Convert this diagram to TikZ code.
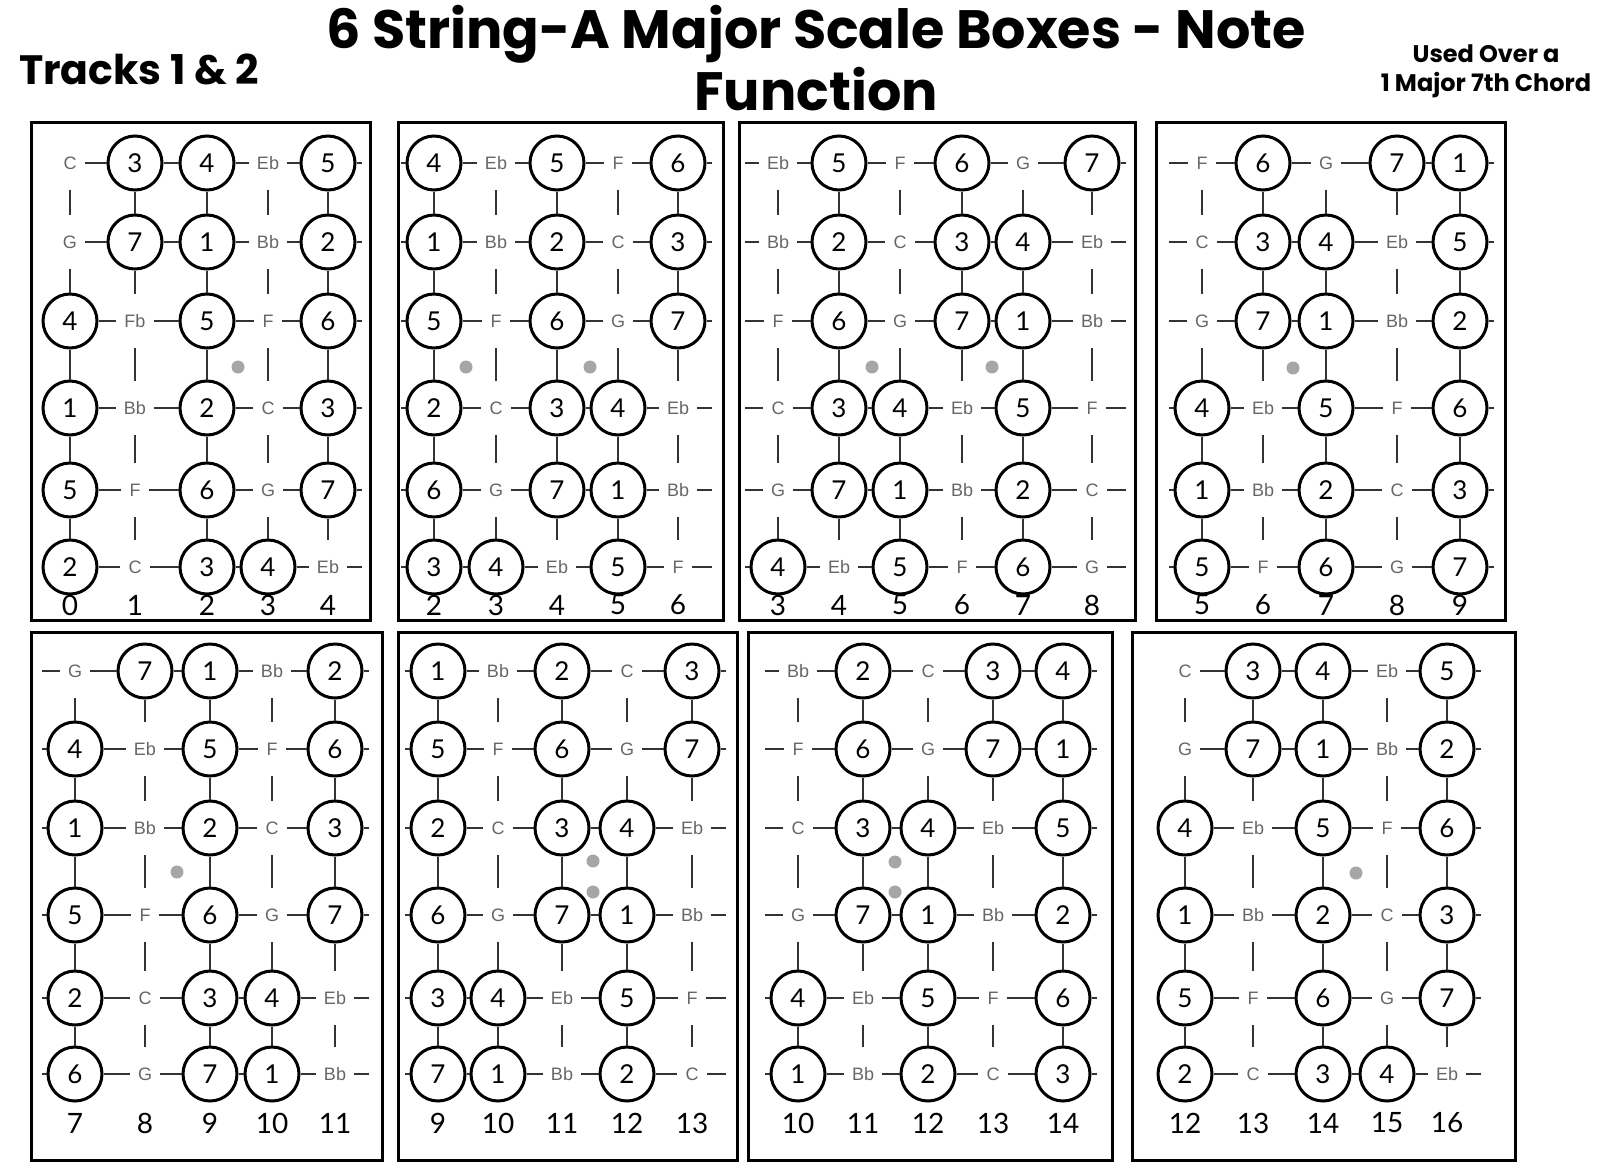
\documentclass[tikz,border=0pt]{standalone}
\usepackage{fontspec}
\setmainfont{Lato}
\newfontfamily\notefont{Liberation Sans}
\newfontfamily\headfont{Poppins}

\begin{document}
\begin{tikzpicture}[
        x=0.5pt, y=-0.5pt,
        heading/.style={anchor=base, font=\headfont\fontsize{27}{27}\selectfont\bfseries},
        sidetag/.style={anchor=base, font=\headfont\fontsize{12}{12}\selectfont\bfseries},
        degree/.style={draw, circle, line width=1.5pt, fill=white, minimum size=27pt, inner sep=0pt, font=\fontsize{13}{13}\selectfont},
        note/.style={minimum height=27pt, inner xsep=4pt, inner ysep=0pt, text=black!60, font=\notefont\fontsize{9}{9}\selectfont},
        fret/.style={font=\fontsize{14}{14}\selectfont},
        marker/.style={circle, fill=black!35, inner sep=0pt, minimum size=6.5pt},
        boxframe/.style={draw=black, line width=1.5pt},
        gstring/.style={draw=black!80, line width=1.3pt}
      ]

      \useasboundingbox (0,0) rectangle (1600,1173);

      \node (title) [heading] at (816,48) {6 String-A Major Scale Boxes - Note};
      \node (title2) [heading] at (816,110) {Function};
      \node (tracks) [heading, anchor=base west, font=\headfont\fontsize{20.5}{20.5}\selectfont\bfseries] at (12,84) {Tracks 1 \& 2};
      \node (used) [sidetag] at (1486,62) {Used Over a};
      \node (chord) [sidetag] at (1486,91) {1 Major 7th Chord};

      % box 1, frets 0-4
      \draw[boxframe] (31,122) rectangle (370,620);
      \foreach \r/\row in {
          1/{note/C,degree/3,degree/4,note/Eb,degree/5},
          2/{note/G,degree/7,degree/1,note/Bb,degree/2},
          3/{degree/4,note/Fb,degree/5,note/F,degree/6},
          4/{degree/1,note/Bb,degree/2,note/C,degree/3},
          5/{degree/5,note/F,degree/6,note/G,degree/7},
          6/{degree/2,note/C,degree/3,degree/4,note/Eb}}
        \foreach \t/\txt [count=\c] in \row {
          \pgfmathsetmacro\x{{70,135,207,268,328}[\c-1]}
          \pgfmathsetmacro\y{{163,242,321,408,490,567}[\r-1]}
          \node (b1-\r-\c) [\t] at (\x,\y) {\txt};
        }
      \foreach \f [count=\c] in {0,...,4} \node (b1-f\c) [fret] at (b1-6-\c |- 0,605) {\f};
      \node (b1-dot) [marker] at (238,367) {};

      % box 2, frets 2-6
      \draw[boxframe] (398,122) rectangle (723,620);
      \foreach \r/\row in {
          1/{degree/4,note/Eb,degree/5,note/F,degree/6},
          2/{degree/1,note/Bb,degree/2,note/C,degree/3},
          3/{degree/5,note/F,degree/6,note/G,degree/7},
          4/{degree/2,note/C,degree/3,degree/4,note/Eb},
          5/{degree/6,note/G,degree/7,degree/1,note/Bb},
          6/{degree/3,degree/4,note/Eb,degree/5,note/F}}
        \foreach \t/\txt [count=\c] in \row {
          \pgfmathsetmacro\x{{434,496,557,618,678}[\c-1]}
          \pgfmathsetmacro\y{{163,242,321,408,490,567}[\r-1]}
          \node (b2-\r-\c) [\t] at (\x,\y) {\txt};
        }
      \foreach \f [count=\c] in {2,...,6} \node (b2-f\c) [fret] at (b2-6-\c |- 0,605) {\f};
      \node (b2-dot1) [marker] at (466,367) {};
      \node (b2-dot2) [marker] at (590,367) {};

      % box 3, frets 3-8
      \draw[boxframe] (739,122) rectangle (1135,620);
      \foreach \r/\row in {
          1/{note/Eb,degree/5,note/F,degree/6,note/G,degree/7},
          2/{note/Bb,degree/2,note/C,degree/3,degree/4,note/Eb},
          3/{note/F,degree/6,note/G,degree/7,degree/1,note/Bb},
          4/{note/C,degree/3,degree/4,note/Eb,degree/5,note/F},
          5/{note/G,degree/7,degree/1,note/Bb,degree/2,note/C},
          6/{degree/4,note/Eb,degree/5,note/F,degree/6,note/G}}
        \foreach \t/\txt [count=\c] in \row {
          \pgfmathsetmacro\x{{778,839,900,962,1023,1092}[\c-1]}
          \pgfmathsetmacro\y{{163,242,321,408,490,567}[\r-1]}
          \node (b3-\r-\c) [\t] at (\x,\y) {\txt};
        }
      \foreach \f [count=\c] in {3,...,8} \node (b3-f\c) [fret] at (b3-6-\c |- 0,605) {\f};
      \node (b3-dot1) [marker] at (872,367) {};
      \node (b3-dot2) [marker] at (992,367) {};

      % box 4, frets 5-9
      \draw[boxframe] (1156,122) rectangle (1505,620);
      \foreach \r/\row in {
          1/{note/F,degree/6,note/G,degree/7,degree/1},
          2/{note/C,degree/3,degree/4,note/Eb,degree/5},
          3/{note/G,degree/7,degree/1,note/Bb,degree/2},
          4/{degree/4,note/Eb,degree/5,note/F,degree/6},
          5/{degree/1,note/Bb,degree/2,note/C,degree/3},
          6/{degree/5,note/F,degree/6,note/G,degree/7}}
        \foreach \t/\txt [count=\c] in \row {
          \pgfmathsetmacro\x{{1202,1263,1326,1397,1460}[\c-1]}
          \pgfmathsetmacro\y{{163,242,321,408,490,567}[\r-1]}
          \node (b4-\r-\c) [\t] at (\x,\y) {\txt};
        }
      \foreach \f [count=\c] in {5,...,9} \node (b4-f\c) [fret] at (b4-6-\c |- 0,605) {\f};
      \node (b4-dot) [marker] at (1293,368) {};

      % box 5, frets 7-11
      \draw[boxframe] (31,632) rectangle (382,1160);
      \foreach \r/\row in {
          1/{note/G,degree/7,degree/1,note/Bb,degree/2},
          2/{degree/4,note/Eb,degree/5,note/F,degree/6},
          3/{degree/1,note/Bb,degree/2,note/C,degree/3},
          4/{degree/5,note/F,degree/6,note/G,degree/7},
          5/{degree/2,note/C,degree/3,degree/4,note/Eb},
          6/{degree/6,note/G,degree/7,degree/1,note/Bb}}
        \foreach \t/\txt [count=\c] in \row {
          \pgfmathsetmacro\x{{75,145,210,272,335}[\c-1]}
          \pgfmathsetmacro\y{{671,749,828,915,998,1074}[\r-1]}
          \node (b5-\r-\c) [\t] at (\x,\y) {\txt};
        }
      \foreach \f [count=\c] in {7,...,11} \node (b5-f\c) [fret] at (b5-6-\c |- 0,1123) {\f};
      \node (b5-dot) [marker] at (177,872) {};

      % box 6, frets 9-13
      \draw[boxframe] (398,632) rectangle (737,1160);
      \foreach \r/\row in {
          1/{degree/1,note/Bb,degree/2,note/C,degree/3},
          2/{degree/5,note/F,degree/6,note/G,degree/7},
          3/{degree/2,note/C,degree/3,degree/4,note/Eb},
          4/{degree/6,note/G,degree/7,degree/1,note/Bb},
          5/{degree/3,degree/4,note/Eb,degree/5,note/F},
          6/{degree/7,degree/1,note/Bb,degree/2,note/C}}
        \foreach \t/\txt [count=\c] in \row {
          \pgfmathsetmacro\x{{438,498,562,627,692}[\c-1]}
          \pgfmathsetmacro\y{{671,749,828,915,998,1074}[\r-1]}
          \node (b6-\r-\c) [\t] at (\x,\y) {\txt};
        }
      \foreach \f [count=\c] in {9,...,13} \node (b6-f\c) [fret] at (b6-6-\c |- 0,1123) {\f};
      \node (b6-dot1) [marker] at (593,861) {};
      \node (b6-dot2) [marker] at (593,892) {};

      % box 7, frets 10-14
      \draw[boxframe] (748,632) rectangle (1112,1160);
      \foreach \r/\row in {
          1/{note/Bb,degree/2,note/C,degree/3,degree/4},
          2/{note/F,degree/6,note/G,degree/7,degree/1},
          3/{note/C,degree/3,degree/4,note/Eb,degree/5},
          4/{note/G,degree/7,degree/1,note/Bb,degree/2},
          5/{degree/4,note/Eb,degree/5,note/F,degree/6},
          6/{degree/1,note/Bb,degree/2,note/C,degree/3}}
        \foreach \t/\txt [count=\c] in \row {
          \pgfmathsetmacro\x{{798,863,928,993,1063}[\c-1]}
          \pgfmathsetmacro\y{{671,749,828,915,998,1074}[\r-1]}
          \node (b7-\r-\c) [\t] at (\x,\y) {\txt};
        }
      \foreach \f [count=\c] in {10,...,14} \node (b7-f\c) [fret] at (b7-6-\c |- 0,1123) {\f};
      \node (b7-dot1) [marker] at (895,862) {};
      \node (b7-dot2) [marker] at (895,892) {};

      % box 8, frets 12-16
      \draw[boxframe] (1132,632) rectangle (1515,1160);
      \foreach \r/\row in {
          1/{note/C,degree/3,degree/4,note/Eb,degree/5},
          2/{note/G,degree/7,degree/1,note/Bb,degree/2},
          3/{degree/4,note/Eb,degree/5,note/F,degree/6},
          4/{degree/1,note/Bb,degree/2,note/C,degree/3},
          5/{degree/5,note/F,degree/6,note/G,degree/7},
          6/{degree/2,note/C,degree/3,degree/4,note/Eb}}
        \foreach \t/\txt [count=\c] in \row {
          \pgfmathsetmacro\x{{1185,1253,1323,1387,1447}[\c-1]}
          \pgfmathsetmacro\y{{671,749,828,915,998,1074}[\r-1]}
          \node (b8-\r-\c) [\t] at (\x,\y) {\txt};
        }
      \foreach \f [count=\c] in {12,...,16} \node (b8-f\c) [fret] at (b8-6-\c |- 0,1123) {\f};
      \node (b8-dot) [marker] at (1356,873) {};

      % strings and frets between the cells, with the short ends at the sides
      \foreach \b/\n/\w in {1/5/0,2/5/1,3/6/1,4/5/1,5/5/1,6/5/1,7/5/1,8/5/0} {
        \foreach \r in {1,...,6} {
          \foreach \c in {2,...,\n} {
            \pgfmathtruncatemacro\p{\c-1}
            \draw[gstring] (b\b-\r-\p) -- (b\b-\r-\c);
          }
          \coordinate (b\b-\r-e) at ([xshift=17pt]b\b-\r-\n.center);
          \draw[gstring] (b\b-\r-\n) -- (b\b-\r-e);
          \ifnum\w=1
            \coordinate (b\b-\r-w) at ([xshift=-16.5pt]b\b-\r-1.center);
            \draw[gstring] (b\b-\r-w) -- (b\b-\r-1);
          \fi
        }
        \foreach \r in {2,...,6} {
          \pgfmathtruncatemacro\q{\r-1}
          \foreach \c in {1,...,\n}
            \draw[gstring] (b\b-\q-\c) -- (b\b-\r-\c);
        }
      }

    \end{tikzpicture}
\end{document}
